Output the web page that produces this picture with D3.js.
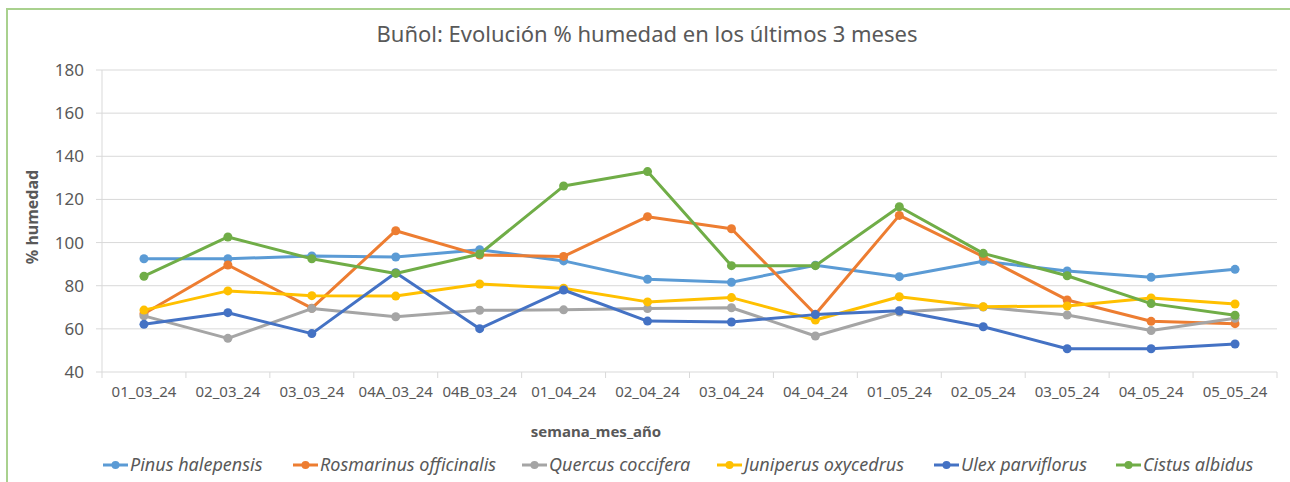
<!DOCTYPE html>
<html>
<head>
<meta charset="utf-8">
<script src="https://cdn.jsdelivr.net/npm/d3@7"></script>
<style>
  body { margin: 0; background: #fff; }
  svg text { font-family: "Noto Sans", "Open Sans", sans-serif; fill: #595959; }
</style>
</head>
<body>
<svg width="1290" height="482"></svg>
<script>
var categories = ["01_03_24", "02_03_24", "03_03_24", "04A_03_24", "04B_03_24", "01_04_24", "02_04_24",
    "03_04_24", "04_04_24", "01_05_24", "02_05_24", "03_05_24", "04_05_24", "05_05_24"];

var seriesNames = ["Pinus halepensis", "Rosmarinus officinalis", "Quercus coccifera",
    "Juniperus oxycedrus", "Ulex parviflorus", "Cistus albidus"];
var seriesColors = ["#5B9BD5", "#ED7D31", "#A5A5A5", "#FFC000", "#4472C4", "#70AD47"];

var pinus = [92.5, 92.5, 93.8, 93.3, 96.7, 91.5, 83, 81.6, 89.5, 84.2, 91.3, 86.8, 83.9, 87.6];
var rosmarinus = [67, 89.6, 69.6, 105.5, 94.2, 93.6, 112, 106.4, 66.8, 112.6, 93.5, 73.4, 63.5, 62.4];
var quercus = [66, 55.6, 69.4, 65.6, 68.6, 68.8, 69.4, 69.8, 56.7, 67.8, 70.1, 66.4, 59.2, 64.9];
var juniperus = [68.7, 77.6, 75.4, 75.2, 80.8, 78.8, 72.5, 74.5, 64.1, 74.9, 70.3, 70.6, 74.3, 71.5];
var ulex = [62.1, 67.5, 57.8, 86, 60.1, 78, 63.6, 63.2, 66.6, 68.4, 61, 50.8, 50.8, 53];
var cistus = [84.4, 102.6, 92.5, 85.7, 94.7, 126.2, 132.9, 89.3, 89.3, 116.6, 95, 84.6, 71.7, 66.3];

var yTicks = [40, 60, 80, 100, 120, 140, 160, 180];

var allSeries = [pinus, rosmarinus, quercus, juniperus, ulex, cistus];

var svg = d3.select("svg");

// chart border (only top and left show in the picture)
svg.append("rect")
    .attr("x", 7).attr("y", 9)
    .attr("width", 1400).attr("height", 600)
    .attr("fill", "none")
    .attr("stroke", "#A9D18E")
    .attr("stroke-width", 2);

var plotLeft = 102, plotRight = 1277, plotTop = 70, plotBottom = 372;

var x = d3.scaleBand().domain(categories).range([plotLeft, plotRight]);
var y = d3.scaleLinear().domain([40, 180]).range([plotBottom, plotTop]);

svg.append("text")
    .attr("x", 647).attr("y", 42)
    .attr("text-anchor", "middle")
    .style("font-size", "22px")
    .text("Buñol: Evolución % humedad en los últimos 3 meses");

// gridlines
svg.append("g")
    .selectAll("line")
    .data(yTicks)
    .enter().append("line")
    .attr("x1", plotLeft - 6).attr("x2", plotRight)
    .attr("y1", function (d) { return y(d); })
    .attr("y2", function (d) { return y(d); })
    .attr("stroke", "#D9D9D9")
    .attr("stroke-width", 1);

// y axis labels
svg.append("g")
    .selectAll("text")
    .data(yTicks)
    .enter().append("text")
    .attr("x", 84)
    .attr("y", function (d) { return y(d) + 6; })
    .attr("text-anchor", "end")
    .style("font-size", "17px")
    .text(function (d) { return d; });

svg.append("line")
    .attr("x1", plotLeft).attr("x2", plotLeft)
    .attr("y1", plotTop).attr("y2", plotBottom + 6)
    .attr("stroke", "#D9D9D9");

// x axis
var xAxis = d3.axisBottom(x).tickSize(0).tickPadding(14);
var gx = svg.append("g")
    .attr("transform", "translate(0," + plotBottom + ")")
    .call(xAxis);
gx.select(".domain").remove();
gx.selectAll("text")
    .style("font-size", "15px")
    .attr("fill", "#595959");

var boundaries = categories.map(function (c) { return x(c) + x.bandwidth(); });
svg.append("g")
    .selectAll("line")
    .data(boundaries)
    .enter().append("line")
    .attr("x1", function (d) { return d; })
    .attr("x2", function (d) { return d; })
    .attr("y1", plotBottom).attr("y2", plotBottom + 6)
    .attr("stroke", "#D9D9D9");

svg.append("text")
    .attr("transform", "translate(38,217) rotate(-90)")
    .attr("text-anchor", "middle")
    .style("font-size", "16px")
    .style("font-weight", "bold")
    .text("% humedad");

svg.append("text")
    .attr("x", 596).attr("y", 437)
    .attr("text-anchor", "middle")
    .style("font-size", "15px")
    .style("font-weight", "bold")
    .text("semana_mes_año");

// lines
var line = d3.line()
    .x(function (d, i) { return x(categories[i]) + x.bandwidth() / 2; })
    .y(function (d) { return y(d); });

allSeries.forEach(function (vals, si) {
    var g = svg.append("g");
    g.append("path")
        .datum(vals)
        .attr("d", line)
        .attr("fill", "none")
        .attr("stroke", seriesColors[si])
        .attr("stroke-width", 3)
        .attr("stroke-linejoin", "round");
    g.selectAll("circle")
        .data(vals)
        .enter().append("circle")
        .attr("cx", function (d, i) { return x(categories[i]) + x.bandwidth() / 2; })
        .attr("cy", function (d) { return y(d); })
        .attr("r", 4.5)
        .attr("fill", seriesColors[si]);
});

// legend
var legendX = [103, 293, 522, 717, 934, 1116];
var legend = svg.append("g")
    .selectAll("g")
    .data(seriesNames)
    .enter().append("g")
    .attr("transform", function (d, i) { return "translate(" + legendX[i] + ",465)"; });
legend.append("line")
    .attr("x1", 0).attr("x2", 25)
    .attr("stroke", function (d, i) { return seriesColors[i]; })
    .attr("stroke-width", 3);
legend.append("circle")
    .attr("cx", 12.5).attr("r", 4)
    .attr("fill", function (d, i) { return seriesColors[i]; });
legend.append("text")
    .attr("x", 27).attr("y", 6)
    .style("font-size", "18px")
    .style("font-style", "italic")
    .text(function (d) { return d; });
</script>
</body>
</html>
